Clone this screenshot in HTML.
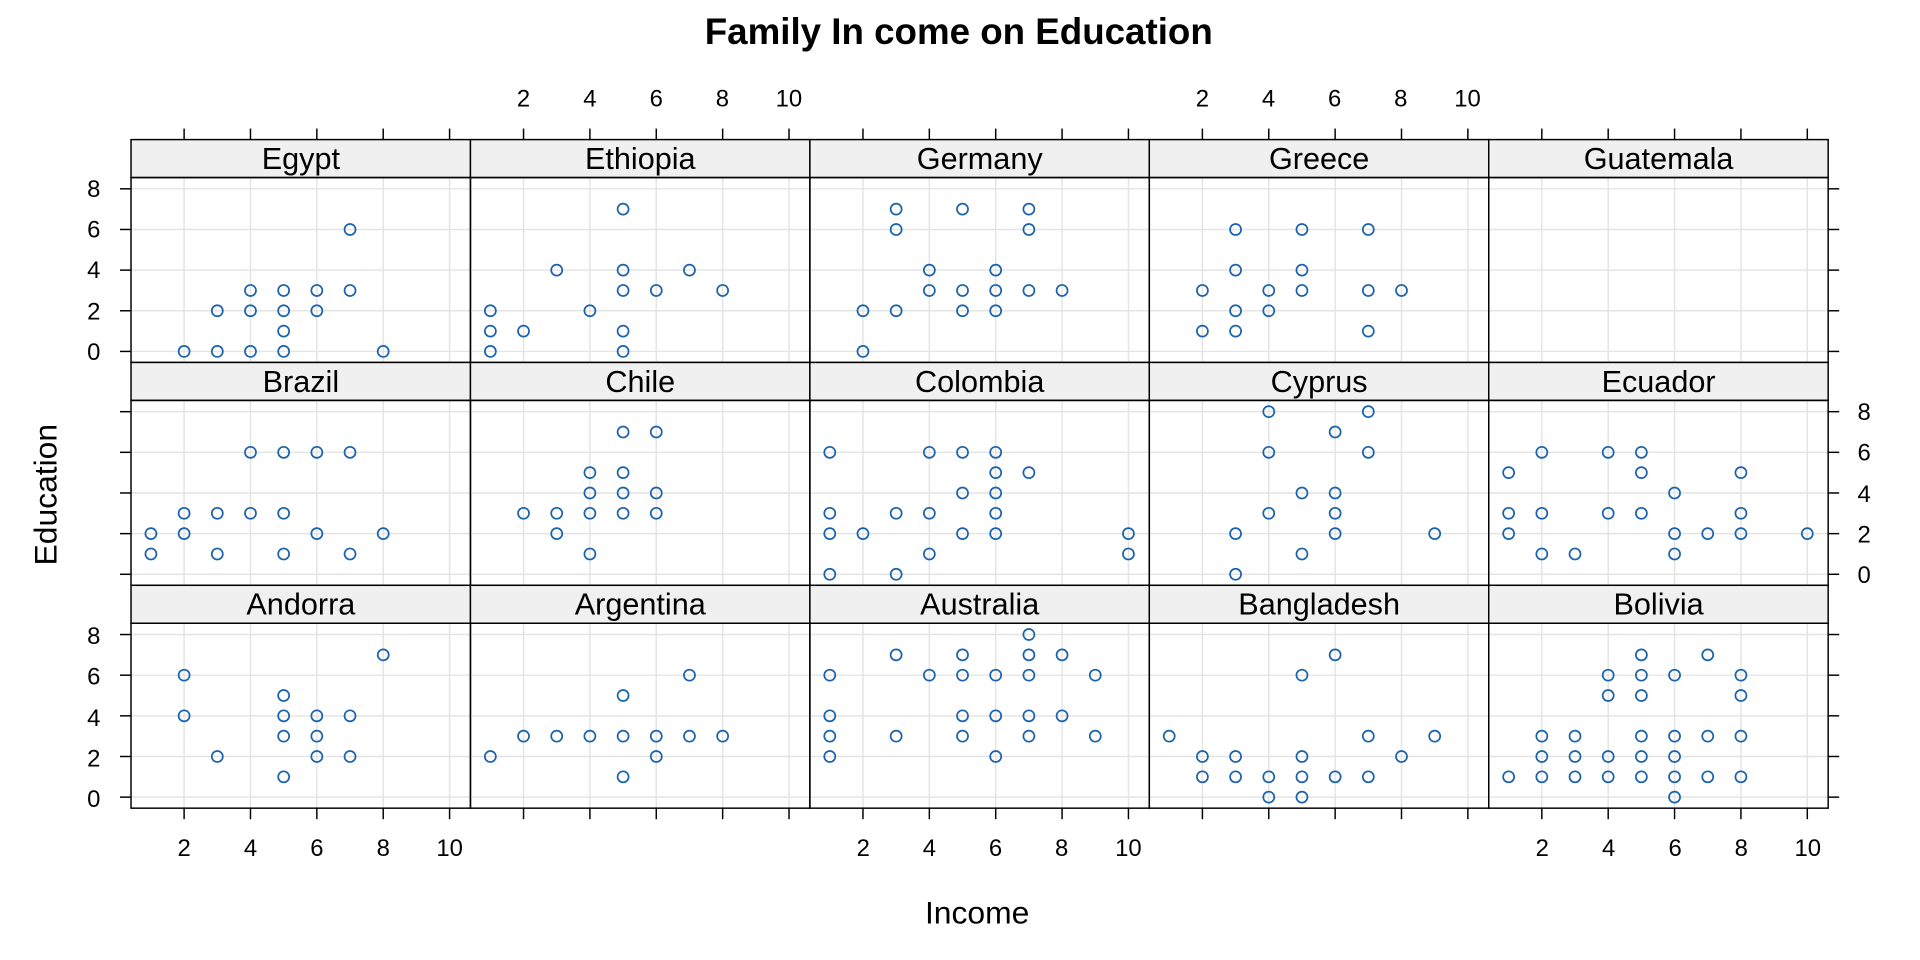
<!DOCTYPE html>
<html><head><meta charset="utf-8"><style>html,body{margin:0;padding:0;background:#fff}svg{display:block}text{font-family:"Liberation Sans",sans-serif;fill:#000}</style></head>
<body>
<svg id="s" width="1920" height="960" viewBox="0 0 1568 784" xmlns="http://www.w3.org/2000/svg">
<g id="g"></g>
<text x="783" y="36" text-anchor="middle" font-size="30" font-weight="bold">Family In come on Education</text>
<text x="798" y="754" text-anchor="middle" font-size="26">Income</text>
<text transform="translate(46,404) rotate(-90)" text-anchor="middle" font-size="26">Education</text>
<g font-size="19.5" text-anchor="middle">
<text x="427.5" y="87">2</text><text x="481.7" y="87">4</text><text x="535.9" y="87">6</text><text x="590" y="87">8</text><text x="644.3" y="87">10</text>
<text x="982" y="87">2</text><text x="1036" y="87">4</text><text x="1090" y="87">6</text><text x="1144" y="87">8</text><text x="1198.5" y="87">10</text>
<text x="150.4" y="699">2</text><text x="204.6" y="699">4</text><text x="258.8" y="699">6</text><text x="313" y="699">8</text><text x="367.2" y="699">10</text>
<text x="705" y="699">2</text><text x="759" y="699">4</text><text x="813" y="699">6</text><text x="867" y="699">8</text><text x="921.5" y="699">10</text>
<text x="1259.5" y="699">2</text><text x="1313.7" y="699">4</text><text x="1368" y="699">6</text><text x="1422" y="699">8</text><text x="1476.3" y="699">10</text>
</g>
<g font-size="19.5" text-anchor="end">
<text x="82" y="294">0</text><text x="82" y="261">2</text><text x="82" y="227">4</text><text x="82" y="194">6</text><text x="82" y="161">8</text>
<text x="82" y="659">0</text><text x="82" y="626">2</text><text x="82" y="593">4</text><text x="82" y="559">6</text><text x="82" y="526">8</text>
</g>
<g font-size="19.5" text-anchor="start">
<text x="1517" y="476">0</text><text x="1517" y="443">2</text><text x="1517" y="410">4</text><text x="1517" y="376">6</text><text x="1517" y="343">8</text>
</g>
<g font-size="25" text-anchor="middle">
<text x="245.7" y="138">Egypt</text><text x="522.9" y="138">Ethiopia</text><text x="800.1" y="138">Germany</text><text x="1077.3" y="138">Greece</text><text x="1354.5" y="138">Guatemala</text>
<text x="245.7" y="320">Brazil</text><text x="522.9" y="320">Chile</text><text x="800.1" y="320">Colombia</text><text x="1077.3" y="320">Cyprus</text><text x="1354.5" y="320">Ecuador</text>
<text x="245.7" y="502">Andorra</text><text x="522.9" y="502">Argentina</text><text x="800.1" y="502">Australia</text><text x="1077.3" y="502">Bangladesh</text><text x="1354.5" y="502">Bolivia</text>
</g>
</svg>
<script>
var D=[
[[2,0],[3,0],[3,2],[4,0],[4,2],[4,3],[5,0],[5,1],[5,2],[5,3],[6,2],[6,3],[7,3],[7,6],[8,0]],
[[1,0],[1,1],[1,2],[2,1],[3,4],[4,2],[5,0],[5,1],[5,3],[5,4],[5,7],[6,3],[7,4],[8,3]],
[[2,0],[2,2],[3,2],[3,6],[3,7],[4,3],[4,4],[5,2],[5,3],[5,7],[6,2],[6,3],[6,4],[7,3],[7,6],[7,7],[8,3]],
[[2,1],[2,3],[3,1],[3,2],[3,4],[3,6],[4,2],[4,3],[5,3],[5,4],[5,6],[7,1],[7,3],[7,6],[8,3]],
[],
[[1,1],[1,2],[2,2],[2,3],[3,1],[3,3],[4,3],[4,6],[5,1],[5,3],[5,6],[6,2],[6,6],[7,1],[7,6],[8,2]],
[[2,3],[3,2],[3,3],[4,1],[4,3],[4,4],[4,5],[5,3],[5,4],[5,5],[5,7],[6,3],[6,4],[6,7]],
[[1,0],[1,2],[1,3],[1,6],[2,2],[3,0],[3,3],[4,1],[4,3],[4,6],[5,2],[5,4],[5,6],[6,2],[6,3],[6,4],[6,5],[6,6],[7,5],[10,1],[10,2]],
[[3,0],[3,2],[4,3],[4,6],[4,8],[5,1],[5,4],[6,2],[6,3],[6,4],[6,7],[7,6],[7,8],[9,2]],
[[1,2],[1,3],[1,5],[2,1],[2,3],[2,6],[3,1],[4,3],[4,6],[5,3],[5,5],[5,6],[6,1],[6,2],[6,4],[7,2],[8,2],[8,3],[8,5],[10,2]],
[[2,4],[2,6],[3,2],[5,1],[5,3],[5,4],[5,5],[6,2],[6,3],[6,4],[7,2],[7,4],[8,7]],
[[1,2],[2,3],[3,3],[4,3],[5,1],[5,3],[5,5],[6,2],[6,3],[7,3],[7,6],[8,3]],
[[1,2],[1,3],[1,4],[1,6],[3,3],[3,7],[4,6],[5,3],[5,4],[5,6],[5,7],[6,2],[6,4],[6,6],[7,3],[7,4],[7,6],[7,7],[7,8],[8,4],[8,7],[9,3],[9,6]],
[[1,3],[2,1],[2,2],[3,1],[3,2],[4,0],[4,1],[5,0],[5,1],[5,2],[5,6],[6,1],[6,7],[7,1],[7,3],[8,2],[9,3]],
[[1,1],[2,1],[2,2],[2,3],[3,1],[3,2],[3,3],[4,1],[4,2],[4,5],[4,6],[5,1],[5,2],[5,3],[5,5],[5,6],[5,7],[6,0],[6,1],[6,2],[6,3],[6,6],[7,1],[7,3],[7,7],[8,1],[8,3],[8,5],[8,6]]];
var h='',W=277.2;
function ln(a,b,c,d,s,w){h+='<line x1="'+a+'" y1="'+b+'" x2="'+c+'" y2="'+d+'" stroke="'+s+'" stroke-width="'+w+'"/>';}
for(var r=0;r<3;r++)for(var c=0;c<5;c++){
 var L=107+c*W,T=114+r*182,S=T+31,B=T+182;
 var X=function(v){return L+(v-0.4)*27.1},Y=function(v){return B-9-v*16.6};
 for(var v=2;v<=10;v+=2)ln(X(v),S,X(v),B,'#e4e4e4',1.2);
 for(var v=0;v<=8;v+=2)ln(L,Y(v),L+W,Y(v),'#e4e4e4',1.2);
 h+='<rect x="'+L+'" y="'+T+'" width="'+W+'" height="31" fill="#f0f0f0" stroke="#000" stroke-width="1.2"/>';
 h+='<rect x="'+L+'" y="'+S+'" width="'+W+'" height="151" fill="none" stroke="#000" stroke-width="1.2"/>';
 D[r*5+c].forEach(function(p){h+='<circle cx="'+X(p[0])+'" cy="'+Y(p[1])+'" r="4.5" fill="none" stroke="#1a62ad" stroke-width="1.4"/>';});
 if(r==0)for(var v=2;v<=10;v+=2)ln(X(v),T,X(v),T-9,'#000',1.2);
 if(r==2)for(var v=2;v<=10;v+=2)ln(X(v),B,X(v),B+9,'#000',1.2);
 if(c==0)for(var v=0;v<=8;v+=2)ln(L,Y(v),L-9,Y(v),'#000',1.2);
 if(c==4)for(var v=0;v<=8;v+=2)ln(L+W,Y(v),L+W+9,Y(v),'#000',1.2);
}
document.getElementById('g').innerHTML=h;
</script>
</body></html>
